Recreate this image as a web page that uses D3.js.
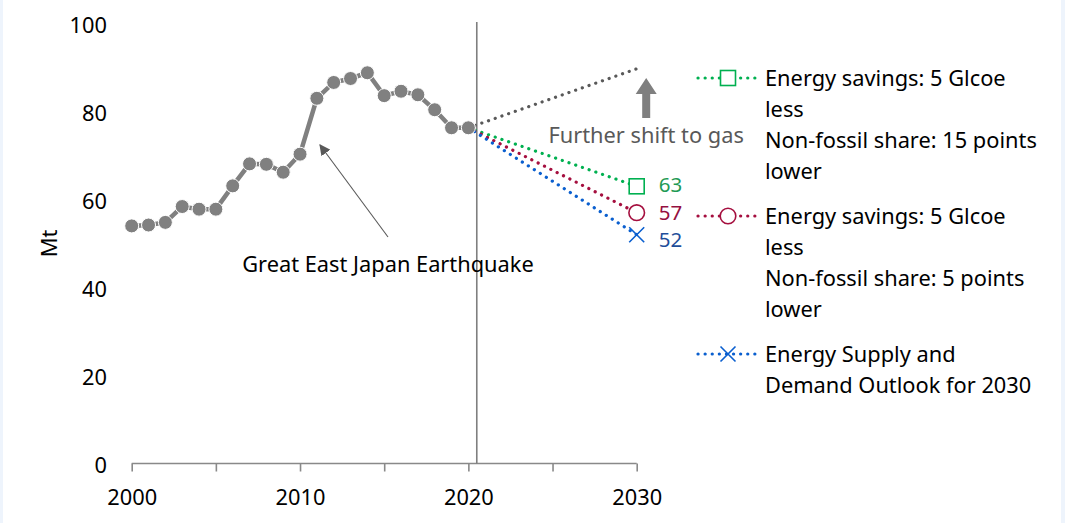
<!DOCTYPE html>
<html>
<head>
<meta charset="utf-8">
<script src="https://cdn.jsdelivr.net/npm/d3@7"></script>
<style>
  html, body { margin: 0; padding: 0; background: #eef4fc; }
  svg { display: block; }
  text { font-family: "Segoe UI", "Noto Sans", "Open Sans", sans-serif; }
</style>
</head>
<body>
<svg id="chart" width="1065" height="523"></svg>
<script>
// Historical coal consumption (Mt), 2000-2020
const histYears = d3.range(2000, 2021);
const histValues = [54.0, 54.2, 54.8, 58.4, 57.8, 57.8, 63.1, 68.1, 68.0, 66.2,
                    70.3, 83.0, 86.6, 87.5, 88.8, 83.6, 84.6, 83.8, 80.4, 76.3, 76.3];

// 2030 scenarios, drawn from the 2020 value
const scenarioYears = [2020, 2030];
const savings15 = [76.3, 63];
const savings5 = [76.3, 57];
const outlook2030 = [76.3, 52];
const gasShift = [76.3, 89.7];

const yTicks = [0, 20, 40, 60, 80, 100];
const xTickLabels = [2000, 2010, 2020, 2030];
const xMinorTicks = [2000, 2005, 2010, 2015, 2020, 2025, 2030];

const legendLabels = [
  ["Energy savings: 5 Glcoe", "less", "Non-fossil share: 15 points", "lower"],
  ["Energy savings: 5 Glcoe", "less", "Non-fossil share: 5 points", "lower"],
  ["Energy Supply and", "Demand Outlook for 2030"]
];

const FS = 21.8;
const svg = d3.select("#chart");
svg.append("rect").attr("x", 3).attr("y", 0).attr("width", 1058).attr("height", 523).attr("fill", "#ffffff");

const x = d3.scaleLinear().domain([2000, 2030]).range([131.7, 636.7]);
const y = d3.scaleLinear().domain([0, 100]).range([463.5, 23.5]);

const axisGrey = "#898989";

// x axis with minor ticks
const xAxis = svg.append("g").attr("transform", `translate(0,${y(0)})`)
  .call(d3.axisBottom(x).tickValues(xMinorTicks).tickSize(8).tickFormat(""));
xAxis.select(".domain").attr("stroke", axisGrey).attr("stroke-width", 1.6).attr("d", `M${x(2000)},0H${x(2030)}`);
xAxis.selectAll(".tick line").attr("stroke", axisGrey).attr("stroke-width", 1.6);

const xLab = svg.append("g").attr("transform", `translate(0,${y(0)})`)
  .call(d3.axisBottom(x).tickValues(xTickLabels).tickSize(0).tickPadding(0).tickFormat(d3.format("d")));
xLab.select(".domain").remove();
xLab.selectAll("text").attr("font-size", FS).attr("fill", "#000").attr("y", 34).attr("dy", "0.36em")
  .style("font-family", "\"Segoe UI\", \"Noto Sans\", sans-serif");

// y axis labels only
const yAx = svg.append("g").attr("transform", `translate(107,0)`)
  .call(d3.axisLeft(y).tickValues(yTicks).tickSize(0).tickPadding(0));
yAx.select(".domain").remove();
yAx.selectAll("text").attr("font-size", FS).attr("fill", "#000").attr("dy", "0.4em")
  .style("font-family", "\"Segoe UI\", \"Noto Sans\", sans-serif");

svg.append("text").attr("transform", `translate(57,${y(50)}) rotate(-90)`)
  .attr("text-anchor", "middle").attr("font-size", FS).attr("fill", "#000").text("Mt");

// 2020 divider
svg.append("line").attr("x1", x(2020.5)).attr("x2", x(2020.5))
  .attr("y1", 22).attr("y2", y(0)).attr("stroke", "#7f7f7f").attr("stroke-width", 1.6);

// Scenario lines
const line = d3.line().x((d, i) => x(scenarioYears[i])).y(d => y(d));
const scenarios = [
  { vals: gasShift, color: "#595959" },
  { vals: savings15, color: "#00b050" },
  { vals: savings5, color: "#a50f3f" },
  { vals: outlook2030, color: "#0a5fcf" }
];
scenarios.forEach(s => {
  svg.append("path").attr("d", line(s.vals)).attr("fill", "none")
    .attr("stroke", s.color).attr("stroke-width", 3.2)
    .attr("stroke-dasharray", "0.1 7").attr("stroke-linecap", "round");
});

// Historical series
const histLine = d3.line().x((d, i) => x(histYears[i])).y(d => y(d));
svg.append("path").attr("d", histLine(histValues)).attr("fill", "none")
  .attr("stroke", "#808080").attr("stroke-width", 4.5);
svg.selectAll("circle.hist").data(histValues).join("circle").attr("class", "hist")
  .attr("cx", (d, i) => x(histYears[i])).attr("cy", d => y(d)).attr("r", 7)
  .attr("fill", "#808080").attr("stroke", "#ffffff").attr("stroke-width", 1);

// 2030 end markers and value labels
function markerSquare(g, cx, cy, c) {
  g.append("rect").attr("x", cx - 7.5).attr("y", cy - 7.5).attr("width", 15).attr("height", 15)
    .attr("fill", "#fff").attr("stroke", c).attr("stroke-width", 1.6);
}
function markerCircle(g, cx, cy, c) {
  g.append("circle").attr("cx", cx).attr("cy", cy).attr("r", 7.8)
    .attr("fill", "#fff").attr("stroke", c).attr("stroke-width", 1.6);
}
function markerCross(g, cx, cy, c) {
  g.append("path").attr("d", `M${cx - 7.5},${cy - 7.5}L${cx + 7.5},${cy + 7.5}M${cx - 7.5},${cy + 7.5}L${cx + 7.5},${cy - 7.5}`)
    .attr("stroke", c).attr("stroke-width", 1.6).attr("fill", "none");
}
const ends = [
  { v: savings15[1], c: "#00b050", t: "#1f9a55", m: markerSquare, dy: -2 },
  { v: savings5[1], c: "#a50f3f", t: "#951040", m: markerCircle, dy: 0 },
  { v: outlook2030[1], c: "#0a5fcf", t: "#1f4e9a", m: markerCross, dy: 5 }
];
ends.forEach(e => {
  e.m(svg, x(2030), y(e.v), e.c);
  svg.append("text").attr("x", x(2030) + 22).attr("y", y(e.v) + e.dy).attr("dy", "0.36em")
    .attr("font-size", 20.5).attr("fill", e.t).text(d3.format("d")(e.v));
});

// Gas shift arrow and note
const ax = x(2030) + 9.5;
svg.append("path")
  .attr("d", `M${ax - 4},118 L${ax - 4},94 L${ax - 10.5},94 L${ax},78 L${ax + 10.5},94 L${ax + 4},94 L${ax + 4},118 Z`)
  .attr("fill", "#7f7f7f");
svg.append("text").attr("x", ax).attr("y", 135).attr("dy", "0.36em").attr("text-anchor", "middle")
  .attr("font-size", FS).attr("fill", "#595959").text("Further shift to gas");

// Earthquake annotation
svg.append("defs").append("marker").attr("id", "ah").attr("viewBox", "0 0 10 10")
  .attr("refX", 9).attr("refY", 5).attr("markerWidth", 11).attr("markerHeight", 11)
  .attr("markerUnits", "userSpaceOnUse").attr("orient", "auto")
  .append("path").attr("d", "M0,0L10,5L0,10Z").attr("fill", "#595959");
svg.append("line").attr("x1", 388).attr("y1", 237).attr("x2", 320).attr("y2", 145)
  .attr("stroke", "#595959").attr("stroke-width", 1.1).attr("marker-end", "url(#ah)");
svg.append("text").attr("x", 388).attr("y", 264).attr("dy", "0.36em").attr("text-anchor", "middle")
  .attr("font-size", FS).attr("fill", "#000").text("Great East Japan Earthquake");

// Legend
const legendTop = [78, 216, 354];
const legendMarkers = [markerSquare, markerCircle, markerCross];
const legendColors = ["#00b050", "#a50f3f", "#0a5fcf"];
legendLabels.forEach((lines, i) => {
  const ly = legendTop[i];
  svg.append("line").attr("x1", 698).attr("x2", 758).attr("y1", ly).attr("y2", ly)
    .attr("stroke", legendColors[i]).attr("stroke-width", 3.2)
    .attr("stroke-dasharray", "0.1 7").attr("stroke-linecap", "round");
  legendMarkers[i](svg, 728, ly, legendColors[i]);
  lines.forEach((t, j) => {
    svg.append("text").attr("x", 765).attr("y", ly + j * 31).attr("dy", "0.36em")
      .attr("font-size", FS).attr("fill", "#000").text(t);
  });
});
</script>
</body>
</html>
